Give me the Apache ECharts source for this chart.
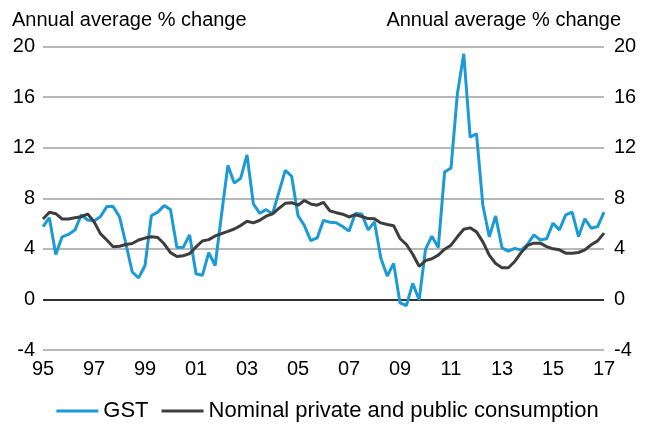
<!DOCTYPE html>
<html>
<head>
<meta charset="utf-8">
<script src="https://cdn.jsdelivr.net/npm/echarts@6/dist/echarts.min.js"></script>
<style>html,body{margin:0;padding:0;background:#fff}#c{width:655px;height:428px}</style>
</head>
<body>
<div id="c"></div>
<script>
// Quarterly periods 1995Q1 .. 2017Q1
var startYear = 1995, endYear = 2017;
var yTicks = [-4, 0, 4, 8, 12, 16, 20];
var axisTitle = "Annual average % change";
var seriesNames = ["GST", "Nominal private and public consumption"];

var gst = [5.75, 6.46, 3.55, 4.95, 5.14, 5.48, 6.68, 6.28, 6.2, 6.54,
  7.34, 7.34, 6.54, 4.4, 2.17, 1.7, 2.68, 6.63, 6.9, 7.42,
  7.1, 4.1, 4.13, 5.1, 2.03, 1.9, 3.7, 2.68, 6.7, 10.6,
  9.2, 9.58, 11.43, 7.55, 6.81, 7.1, 6.76, 8.47, 10.2, 9.74,
  6.63, 5.84, 4.65, 4.86, 6.25, 6.1, 6.06, 5.77, 5.4, 6.8,
  6.75, 5.5, 6.13, 3.25, 1.85, 2.85, -0.28, -0.48, 1.27, -0.05,
  3.95, 5.0, 4.1, 10.08, 10.39, 16.26, 19.42, 12.84, 13.1, 7.45,
  4.95, 6.6, 4.08, 3.82, 4.04, 3.9, 4.35, 5.1, 4.7, 4.79,
  6.03, 5.5, 6.68, 6.9, 4.97, 6.37, 5.63, 5.76, 6.9];

var consumption = [6.36, 6.89, 6.78, 6.36, 6.36, 6.46, 6.54, 6.75, 6.15, 5.2,
  4.7, 4.16, 4.2, 4.34, 4.42, 4.7, 4.85, 4.95, 4.9, 4.4,
  3.7, 3.4, 3.45, 3.62, 4.15, 4.62, 4.73, 5.02, 5.2, 5.38,
  5.57, 5.84, 6.18, 6.05, 6.26, 6.58, 6.76, 7.2, 7.6, 7.65,
  7.45, 7.82, 7.55, 7.45, 7.68, 7.0, 6.86, 6.74, 6.52, 6.7,
  6.56, 6.39, 6.37, 6.05, 5.93, 5.83, 4.82, 4.34, 3.57, 2.62,
  3.07, 3.22, 3.5, 3.97, 4.29, 4.95, 5.55, 5.66, 5.34, 4.55,
  3.5, 2.84, 2.5, 2.5, 3.0, 3.7, 4.27, 4.45, 4.45, 4.18,
  4.0, 3.92, 3.66, 3.66, 3.71, 3.92, 4.32, 4.63, 5.24];

var categories = [];
for (var y = startYear; y <= endYear; y++) {
  for (var q = 1; q <= 4; q++) {
    if (y === endYear && q > 1) break;
    categories.push(y + "Q" + q);
  }
}

var FONT = "Liberation Sans, Arial, sans-serif";
var chart = echarts.init(document.getElementById('c'), null, {renderer: 'canvas'});
var yAxisBase = {
  type: 'value', min: yTicks[0], max: yTicks[yTicks.length - 1], interval: 4,
  axisLine: {show: false}, axisTick: {show: false}
};
chart.setOption({
  animation: false,
  textStyle: {fontFamily: FONT},
  title: [
    {text: axisTitle, left: 7, top: 5, textStyle: {fontSize: 20, fontWeight: 'normal', color: '#000', fontFamily: FONT}},
    {text: axisTitle, right: 29, top: 5, textStyle: {fontSize: 20, fontWeight: 'normal', color: '#000', fontFamily: FONT}}
  ],
  grid: {left: 43, right: 51, top: 46.5, bottom: 78},
  legend: {
    bottom: 1, left: 'center', itemWidth: 42, itemHeight: 3, itemGap: 13,
    icon: 'rect',
    textStyle: {fontSize: 22, color: '#000', fontFamily: FONT},
    data: seriesNames
  },
  xAxis: {
    type: 'category', data: categories, boundaryGap: false,
    axisLine: {show: false}, axisTick: {show: false},
    axisLabel: {
      interval: function (i) { return i % 8 === 0; },
      formatter: function (v) { return v.slice(2, 4); },
      fontSize: 20, color: '#000', margin: 9, fontFamily: FONT
    },
    splitLine: {show: false}
  },
  yAxis: [
    Object.assign({}, yAxisBase, {
      position: 'left',
      axisLabel: {fontSize: 20, color: '#000', margin: 8, fontFamily: FONT},
      splitLine: {show: true, lineStyle: {color: '#a0a0a0', width: 1.5}}
    }),
    Object.assign({}, yAxisBase, {
      position: 'right',
      axisLabel: {fontSize: 20, color: '#000', margin: 10, fontFamily: FONT},
      splitLine: {show: false}
    })
  ],
  series: [
    {
      name: seriesNames[0], type: 'line', data: gst, symbol: 'none',
      lineStyle: {color: '#1b9ad6', width: 3}, itemStyle: {color: '#1b9ad6'}, z: 3,
      markLine: {
        silent: true, symbol: 'none', label: {show: false},
        lineStyle: {color: '#333', width: 2, type: 'solid'},
        data: [{yAxis: 0}], z: 1
      }
    },
    {
      name: seriesNames[1], type: 'line', data: consumption, symbol: 'none',
      lineStyle: {color: '#3d3d3d', width: 3}, itemStyle: {color: '#3d3d3d'}, z: 4
    }
  ]
});
</script>
</body>
</html>
